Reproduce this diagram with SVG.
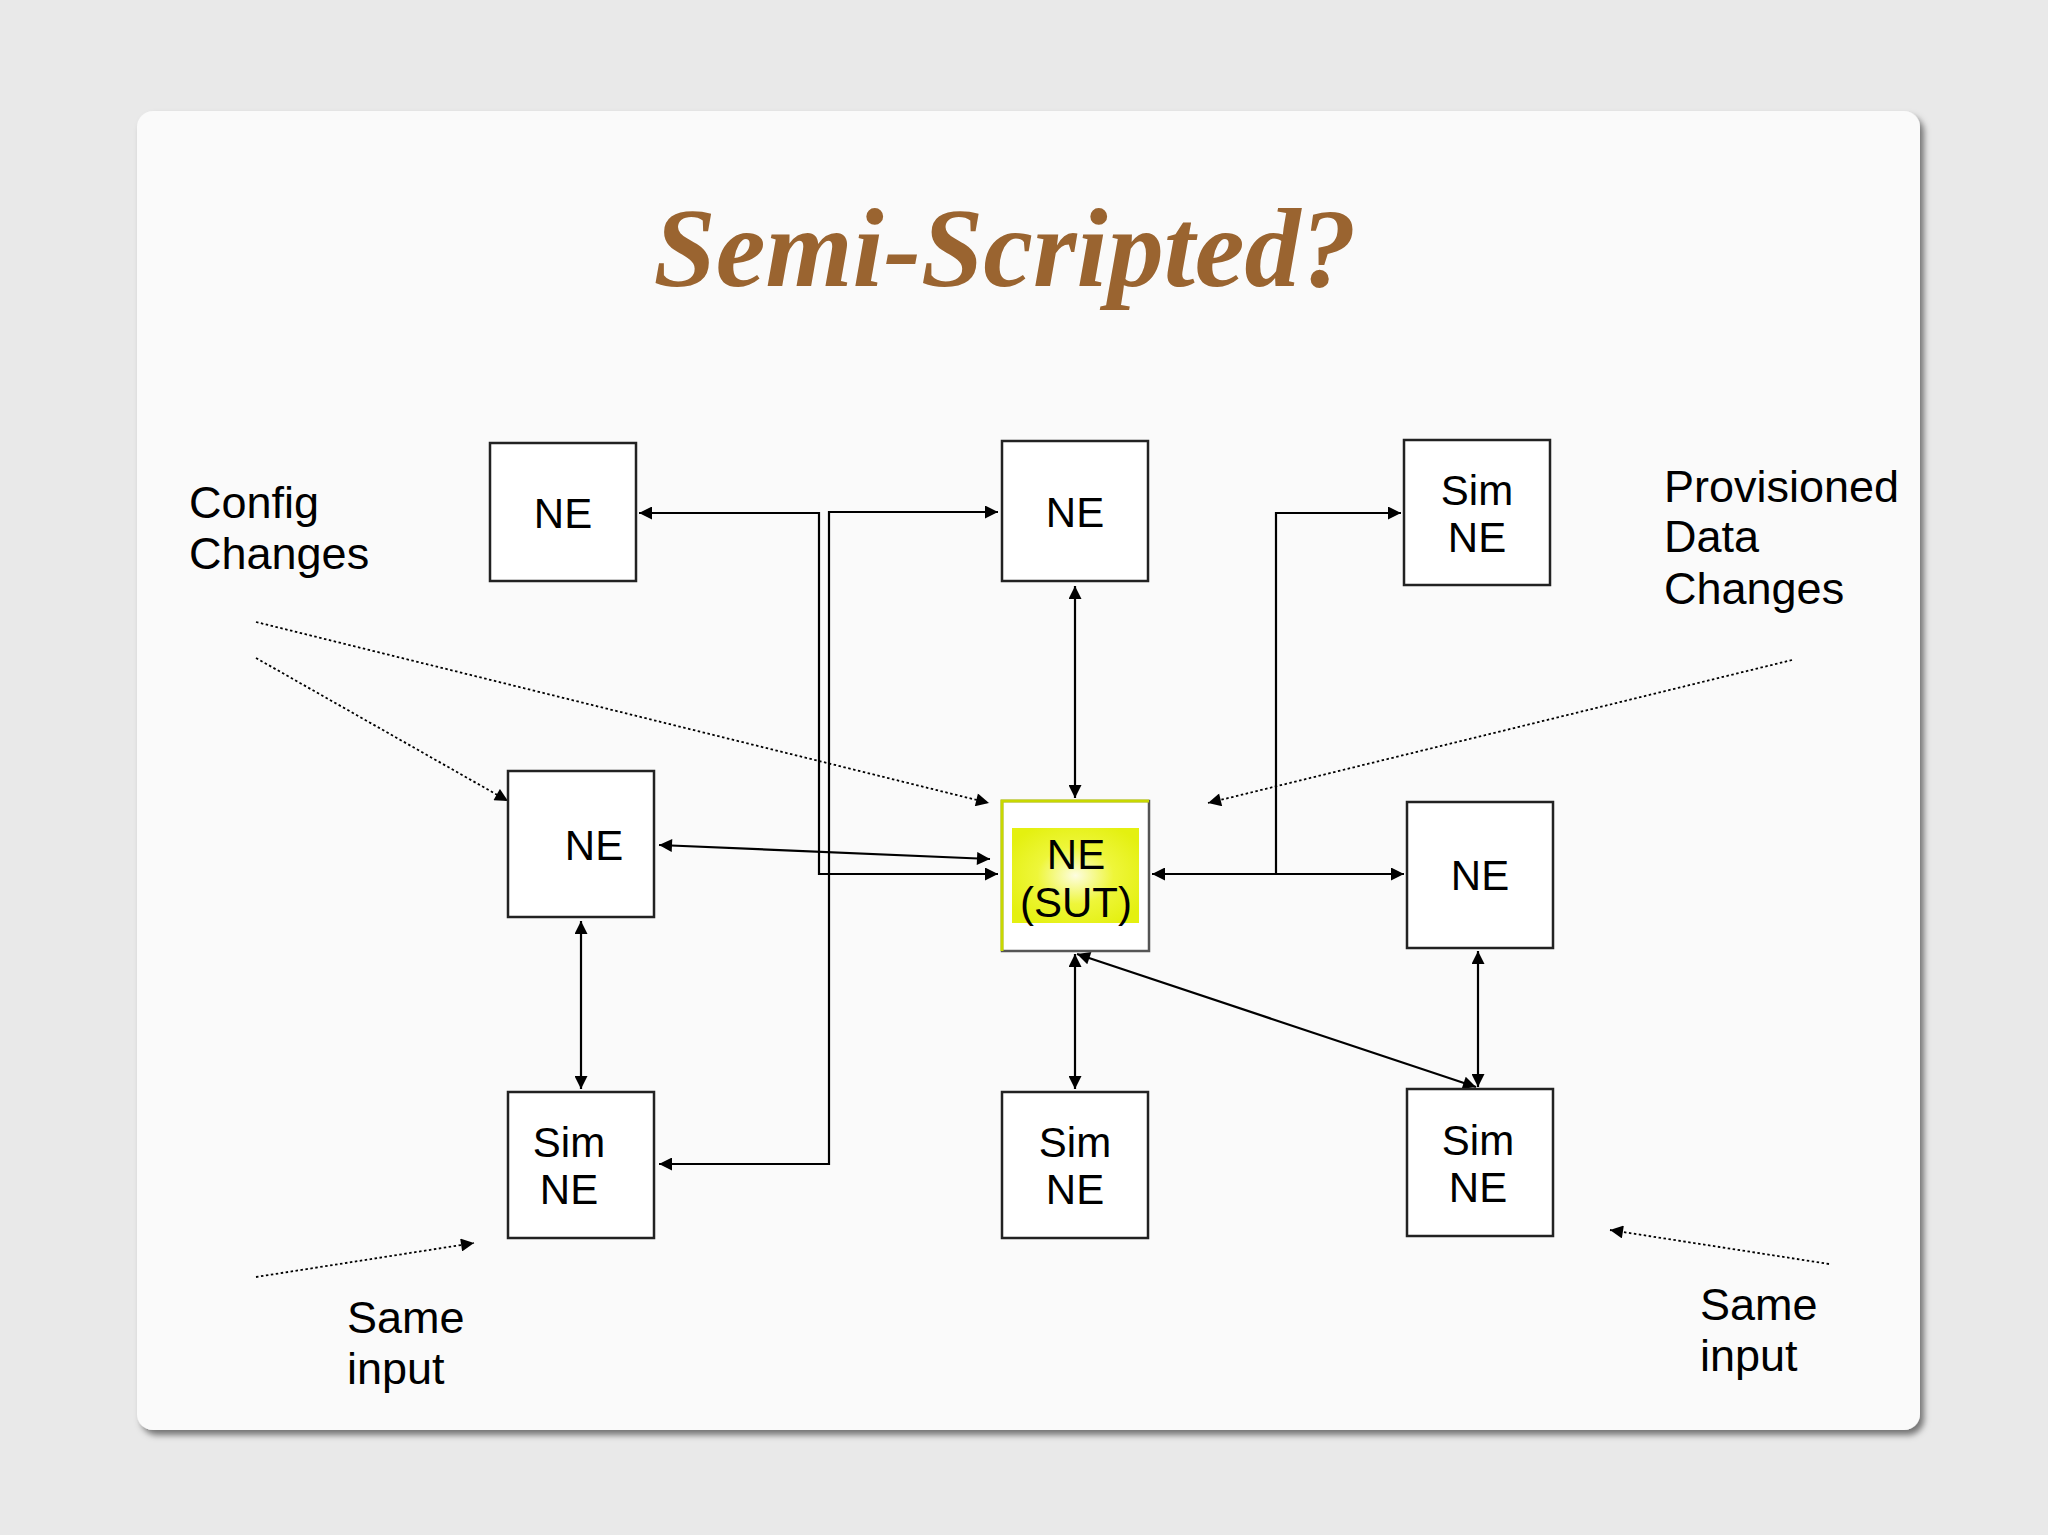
<svg xmlns="http://www.w3.org/2000/svg" width="2048" height="1535" viewBox="0 0 2048 1535">
<style>
.box{fill:#fff;stroke:#222;stroke-width:2.5}
.t{font-family:"Liberation Sans",Arial,sans-serif;font-size:42px;fill:#000;text-anchor:middle}
.l{font-family:"Liberation Sans",Arial,sans-serif;font-size:45px;fill:#000}
.c{fill:none;stroke:#000;stroke-width:2.2}
.d{fill:none;stroke:#000;stroke-width:1.8;stroke-dasharray:2.5 2.5}
</style>
<defs>
<marker id="a" viewBox="0 0 10 10" refX="10" refY="5" markerWidth="14" markerHeight="13" markerUnits="userSpaceOnUse" orient="auto-start-reverse"><path d="M0,0L10,5L0,10z" fill="#000"/></marker>
<radialGradient id="y" cx="0.5" cy="0.5" r="0.6"><stop offset="0" stop-color="#fdfde0"/><stop offset="0.5" stop-color="#eef63a"/><stop offset="1" stop-color="#e4f010"/></radialGradient>
<filter id="sh" x="-5%" y="-5%" width="110%" height="110%"><feDropShadow dx="4" dy="5" stdDeviation="3" flood-color="#000" flood-opacity="0.5"/></filter>
</defs>
<rect width="2048" height="1535" fill="#e9e9e9"/>
<rect x="137" y="111" width="1783" height="1319" rx="16" fill="#fafafa" filter="url(#sh)"/>
<text x="1005" y="286" text-anchor="middle" font-family="Liberation Serif,serif" font-size="112" font-weight="bold" font-style="italic" fill="#9a6430">Semi-Scripted?</text>
<g id="labels">
<text class="l" x="189" y="518">Config</text><text class="l" x="189" y="569">Changes</text>
<text class="l" x="1664" y="502">Provisioned</text><text class="l" x="1664" y="552">Data</text><text class="l" x="1664" y="604">Changes</text>
<text class="l" x="347" y="1333">Same</text><text class="l" x="347" y="1384">input</text>
<text class="l" x="1700" y="1320">Same</text><text class="l" x="1700" y="1371">input</text>
</g>
<g id="connectors">
<polyline class="c" points="639,513 819,513 819,874 998,874" marker-start="url(#a)" marker-end="url(#a)"/>
<polyline class="c" points="998,512 829,512 829,1164 659,1164" marker-start="url(#a)" marker-end="url(#a)"/>
<line class="c" x1="659" y1="845" x2="990" y2="859" marker-start="url(#a)" marker-end="url(#a)"/>
<line class="c" x1="1075" y1="586" x2="1075" y2="798" marker-start="url(#a)" marker-end="url(#a)"/>
<polyline class="c" points="1276,874 1276,513 1401,513" marker-end="url(#a)"/>
<line class="c" x1="1152" y1="874" x2="1404" y2="874" marker-start="url(#a)" marker-end="url(#a)"/>
<line class="c" x1="581" y1="921" x2="581" y2="1089" marker-start="url(#a)" marker-end="url(#a)"/>
<line class="c" x1="1075" y1="954" x2="1075" y2="1089" marker-start="url(#a)" marker-end="url(#a)"/>
<line class="c" x1="1077" y1="954" x2="1476" y2="1087" marker-start="url(#a)" marker-end="url(#a)"/>
<line class="c" x1="1478" y1="951" x2="1478" y2="1087" marker-start="url(#a)" marker-end="url(#a)"/>
<line class="d" x1="256" y1="622" x2="989" y2="803" marker-end="url(#a)"/>
<line class="d" x1="256" y1="658" x2="508" y2="801" marker-end="url(#a)"/>
<line class="d" x1="1792" y1="660" x2="1208" y2="803" marker-end="url(#a)"/>
<line class="d" x1="256" y1="1277" x2="474" y2="1243" marker-end="url(#a)"/>
<line class="d" x1="1829" y1="1264" x2="1610" y2="1230" marker-end="url(#a)"/>
</g>
<g id="ne1"><rect class="box" x="490" y="443" width="146" height="138"/><text class="t" x="563" y="528">NE</text></g>
<g id="ne2"><rect class="box" x="1002" y="441" width="146" height="140"/><text class="t" x="1075" y="527">NE</text></g>
<g id="simne-tr"><rect class="box" x="1404" y="440" width="146" height="145"/><text class="t" x="1477" y="505">Sim</text><text class="t" x="1477" y="552">NE</text></g>
<g id="ne-left"><rect class="box" x="508" y="771" width="146" height="146"/><text class="t" x="594" y="860">NE</text></g>
<g id="sut"><rect class="box" x="1002" y="801" width="147" height="150" style="stroke:#555"/><path d="M1002,951V801H1149" fill="none" stroke="#c8d800" stroke-width="3"/><rect x="1012" y="828" width="127" height="95" fill="url(#y)"/><text class="t" x="1076" y="869">NE</text><text class="t" x="1076" y="917">(SUT)</text></g>
<g id="ne-right"><rect class="box" x="1407" y="802" width="146" height="146"/><text class="t" x="1480" y="890">NE</text></g>
<g id="simne-bl"><rect class="box" x="508" y="1092" width="146" height="146"/><text class="t" x="569" y="1157">Sim</text><text class="t" x="569" y="1204">NE</text></g>
<g id="simne-bm"><rect class="box" x="1002" y="1092" width="146" height="146"/><text class="t" x="1075" y="1157">Sim</text><text class="t" x="1075" y="1204">NE</text></g>
<g id="simne-br"><rect class="box" x="1407" y="1089" width="146" height="147"/><text class="t" x="1478" y="1155">Sim</text><text class="t" x="1478" y="1202">NE</text></g>
</svg>
